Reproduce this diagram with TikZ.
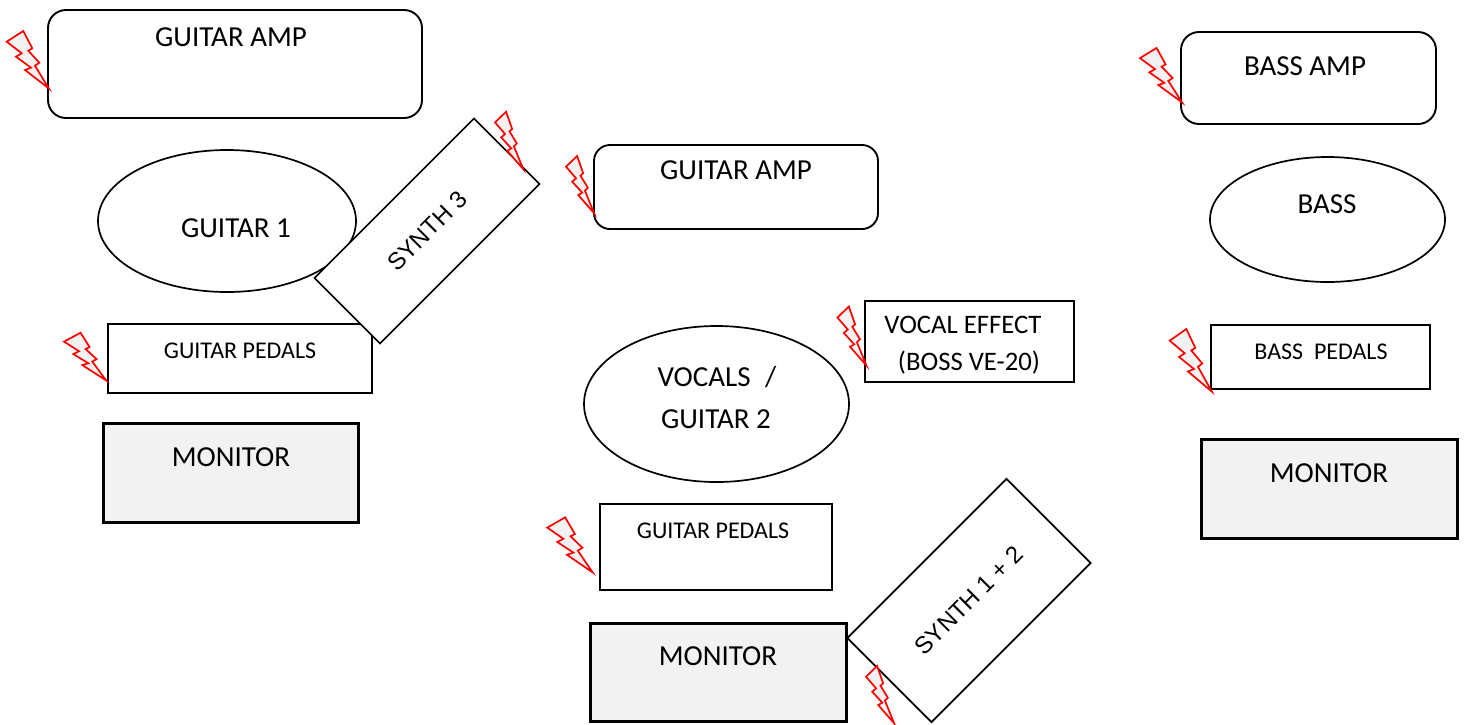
\documentclass[tikz,border=0pt]{standalone}
\usepackage{fontspec}
\setmainfont{Carlito}
\newfontfamily\synthfont{Liberation Sans}
\usetikzlibrary{shapes.geometric}
\definecolor{boxgray}{HTML}{F2F2F2}
\tikzset{
  ampbox/.style={draw, line width=1.9pt, rounded corners=18pt, inner sep=0pt},
  seatbox/.style={draw, ellipse, line width=1.7pt, inner sep=0pt},
  pedalbox/.style={draw, line width=2pt, inner sep=0pt},
  monitorbox/.style={draw, line width=3pt, fill=boxgray, inner sep=0pt},
  synthbox/.style={draw, line width=1.7pt, fill=white, rotate=45, inner sep=0pt, font=\fontsize{24}{28}\synthfont},
  bigtext/.style={font=\fontsize{29}{34}\selectfont, inner sep=0pt},
  midtext/.style={font=\fontsize{26.7}{31}\selectfont, inner sep=0pt},
  smalltext/.style={font=\fontsize{24}{28}\selectfont, inner sep=0pt},
  bolt/.pic={
    \draw[red, line width=1.7pt, fill=boxgray, miter limit=10]
      (-43.3,-48.3) -- (-26.7,-59) -- (-17.7,-41.7) -- (-21.7,-39.3) -- (-10.7,-27.3)
      -- (-15,-24.3) -- (-1.2,-1.6) -- (-25,-20) -- (-19,-22.3) -- (-34,-33.3) -- (-28.3,-36.7) -- cycle;
  }
}
\begin{document}
\begin{tikzpicture}[x=1pt, y=-1pt]
 \path[use as bounding box, clip] (0,0) rectangle (1469,724);

 \node[ampbox, minimum width=374pt, minimum height=108pt] (ampA) at (235,64) {};
 \node[seatbox, minimum width=258pt, minimum height=142pt] (guitarA) at (227,221) {};
 \node[pedalbox, minimum width=264pt, minimum height=69pt] (pedalsA) at (240,358.5) {};
 \node[monitorbox, minimum width=255pt, minimum height=99pt] (monitorA) at (230.5,472.5) {};
 \node[synthbox, minimum width=225.6pt, minimum height=92.6pt] (synthA) at (427,231) {SYNTH 3};

 \node[ampbox, rounded corners=16pt, minimum width=284pt, minimum height=84pt] (ampB) at (736,187) {};
 \node[seatbox, minimum width=265pt, minimum height=156pt] (vocals) at (716.5,404) {};
 \node[pedalbox, minimum width=209pt, minimum height=81pt] (effect) at (969.5,341.5) {};
 \node[pedalbox, minimum width=232pt, minimum height=86pt] (pedalsB) at (716,547) {};
 \node[monitorbox, minimum width=256pt, minimum height=98pt] (monitorB) at (718,672) {};
 \node[synthbox, minimum width=225pt, minimum height=119pt] (synthB) at (969,600.5) {SYNTH 1 + 2};

 \node[ampbox, minimum width=255pt, minimum height=92pt] (ampC) at (1308.5,78) {};
 \node[seatbox, minimum width=235pt, minimum height=125pt] (bass) at (1327.5,219.5) {};
 \node[pedalbox, minimum width=219pt, minimum height=64pt] (pedalsC) at (1320.5,357) {};
 \node[monitorbox, minimum width=256pt, minimum height=99pt] (monitorC) at (1329,488.5) {};

 \node[bigtext] (ampAtext) at (231,37) {GUITAR AMP};
 \node[bigtext] (guitarAtext) at (236,228) {GUITAR 1};
 \node[smalltext] (pedalsAtext) at (240,351) {GUITAR PEDALS};
 \node[bigtext] (monitorAtext) at (231,457) {MONITOR};
 \node[bigtext] (ampBtext) at (736,170) {GUITAR AMP};
 \node[bigtext] (vocalsone) at (717,377) {VOCALS\hspace{8pt} /};
 \node[bigtext] (vocalstwo) at (716,419) {GUITAR 2};
 \node[midtext] (effectone) at (963,325) {VOCAL EFFECT};
 \node[midtext] (effecttwo) at (969,363) {(BOSS VE-20)};
 \node[smalltext] (pedalsBtext) at (713,531) {GUITAR PEDALS};
 \node[bigtext] (monitorBtext) at (718,656) {MONITOR};
 \node[bigtext] (ampCtext) at (1305,66) {BASS AMP};
 \node[bigtext] (basstext) at (1327,204) {BASS};
 \node[smalltext] (pedalsCtext) at (1321,352) {BASS\ \ PEDALS};
 \node[bigtext] (monitorCtext) at (1329,473) {MONITOR};

 \pic at (50,90) {bolt};
 \pic[xscale=.67] at (524,170.7) {bolt};
 \pic[xscale=.67] at (595,215) {bolt};
 \pic[yscale=.95] at (1183.3,104) {bolt};
 \pic[yscale=.83] at (107.3,381.7) {bolt};
 \pic[yscale=1.09] at (1213,393.3) {bolt};
 \pic[xscale=.69, yscale=1.03] at (867.3,367.3) {bolt};
 \pic[xscale=1.08, yscale=.96] at (594,574) {bolt};
 \pic[xscale=.67] at (895,725) {bolt};
\end{tikzpicture}
\end{document}
